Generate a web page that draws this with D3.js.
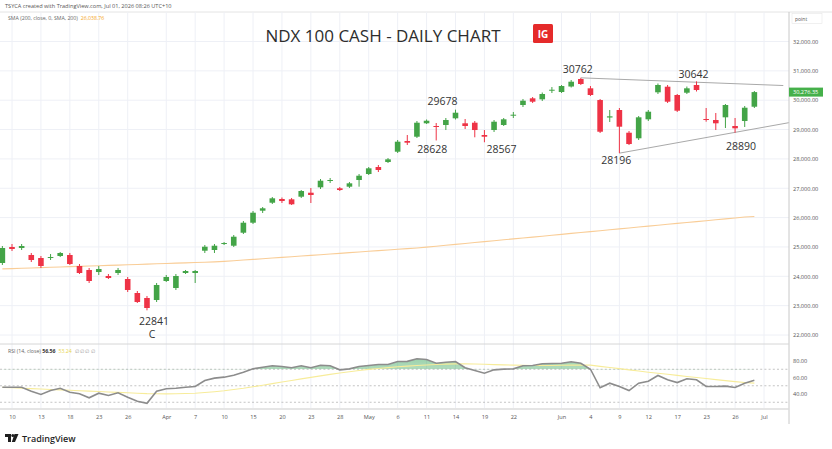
<!DOCTYPE html>
<html><head><meta charset="utf-8">
<script src="https://cdn.jsdelivr.net/npm/d3@7/dist/d3.min.js"></script>
<style>body{margin:0;background:#fff}svg{display:block}</style>
</head><body><svg id="c" width="832" height="449"></svg>
<script>
const dates = ["2026-03-09","2026-03-10","2026-03-11","2026-03-12","2026-03-13","2026-03-16","2026-03-17","2026-03-18","2026-03-19","2026-03-20","2026-03-23","2026-03-24","2026-03-25","2026-03-26","2026-03-27","2026-03-30","2026-03-31",
"2026-04-01","2026-04-02","2026-04-06","2026-04-07","2026-04-08","2026-04-09","2026-04-10","2026-04-13","2026-04-14","2026-04-15","2026-04-16","2026-04-17","2026-04-20","2026-04-21","2026-04-22","2026-04-23","2026-04-24","2026-04-27","2026-04-28","2026-04-29","2026-04-30",
"2026-05-01","2026-05-04","2026-05-05","2026-05-06","2026-05-07","2026-05-08","2026-05-11","2026-05-12","2026-05-13","2026-05-14","2026-05-15","2026-05-18","2026-05-19","2026-05-20","2026-05-21","2026-05-22","2026-05-26","2026-05-27","2026-05-28","2026-05-29",
"2026-06-01","2026-06-02","2026-06-03","2026-06-04","2026-06-05","2026-06-08","2026-06-09","2026-06-10","2026-06-11","2026-06-12","2026-06-15","2026-06-16","2026-06-17","2026-06-18","2026-06-22","2026-06-23","2026-06-24","2026-06-25","2026-06-26","2026-06-29","2026-06-30"];
const axisDates = dates.concat(["2026-07-01"]);

const opens = [24453,24998,24964,24726,24623,24640,24692,24726,24351,24215,24146,24010,24112,23908,23431,23261,23192,23840,23601,24112,24112,24872,24896,25100,25042,25485,25826,26235,26507,26634,26623,26712,26848,27032,27247,26998,27053,27281,27485,27724,27894,28245,28610,28756,29213,29121,29155,29383,29213,29233,28814,28984,29155,29485,29836,30064,30030,30337,30279,30466,30722,30405,30006,29410,29666,28892,28702,29349,30269,30460,30177,30255,30518,29359,29325,29417,29121,29291,29778];
const highs = [25032,25100,25100,24794,24692,24760,24828,24794,24419,24283,24351,24078,24283,23976,23499,23329,23772,24044,24078,24215,24215,25066,25100,25168,25407,25884,26225,26361,26702,26685,26668,26940,27008,27315,27349,27042,27213,27485,27724,27792,28030,28644,28814,29291,29342,29223,29393,29678,29359,29291,28984,29325,29393,29598,30041,30109,30262,30449,30517,30688,30762,30483,30041,29666,29734,28950,29461,29666,30569,30518,30211,30466,30642,29734,29564,29870,29393,29802,30313];
const lows = [24385,24862,24896,24487,24283,24555,24657,24385,24078,23772,24044,23908,24044,23465,23090,22841,23124,23806,23533,24078,23772,24794,24794,25066,24998,25441,25782,26157,26463,26497,26429,26668,26497,26974,27179,26906,27008,27053,27451,27553,27860,28201,28473,28712,29189,28628,28984,29342,29018,28736,28567,28916,29121,29393,29768,29904,29972,30245,30245,30432,30517,30143,28882,29257,28196,28473,28644,29291,30211,29904,29598,30211,30296,29267,28984,29052,28890,29087,29734];
const closes = [24964,24930,25032,24555,24351,24657,24794,24419,24112,23840,24249,23942,24215,23533,23124,22920,23704,23976,24010,24180,24180,25008,25042,25134,25349,25826,26167,26317,26657,26565,26453,26906,26770,27257,27281,26940,27168,27427,27679,27622,27986,28586,28552,29233,29301,29087,29325,29574,29121,28984,28756,29267,29349,29506,29983,29949,30211,30357,30483,30630,30552,30177,28926,29451,29097,28507,29417,29608,30518,29949,29642,30405,30347,29335,29213,29836,29042,29744,30276];
const sma200 = [24252,24263,24273,24284,24295,24306,24317,24328,24339,24350,24361,24372,24382,24393,24404,24415,24426,24437,24448,24459,24470,24480,24491,24507,24530,24553,24576,24598,24621,24644,24667,24690,24713,24736,24759,24782,24805,24828,24851,24874,24897,24920,24943,24966,24995,25026,25057,25088,25119,25150,25181,25212,25243,25274,25305,25336,25367,25398,25430,25461,25492,25523,25554,25585,25616,25647,25678,25709,25740,25771,25802,25833,25864,25895,25926,25957,25988,26019,26039];
const rsi = [48.2,48.2,48.2,43.4,39.4,44.2,47.0,42.2,40.2,35.4,41.0,38.2,41.5,36.1,31.3,28.8,43.4,46.3,47.0,48.2,49.1,56.4,59.2,60.4,62.8,66.4,70.5,72.5,74.2,73.3,71.8,74.2,71.8,74.9,74.2,69.3,70.5,73.3,74.5,75.8,75.8,79.4,79.6,82.7,81.8,77.3,78.5,79.4,71.8,68.5,65.2,69.3,70.1,70.5,74.2,74.5,76.6,77.0,77.3,79.0,77.3,70.0,47.5,53.1,49.1,44.2,53.1,55.5,62.4,57.2,53.9,58.4,57.2,49.1,49.1,49.5,47.9,53.1,56.6];
const rsiMa = [48,47.5,47,46.5,46,45.5,45,44.5,44,43.5,43,42.5,42,41.5,41,40.5,40.3,40.2,40.3,40.6,41,41.8,42.8,44,45.5,47,48.8,50.7,52.6,54.5,56.4,58.3,60.2,62,63.8,65.5,67,68.5,69.8,71,72,73,73.8,74.5,75.2,75.8,76.2,76.5,76.6,76.4,76,75.6,75.3,75,74.8,74.6,74.5,74.6,74.8,75,75.2,75,73.5,72.2,70.8,69.2,67.8,66.4,65.2,64,62.6,61.3,60,58.7,57.4,56.2,55,54,53.2];

const xTicks = [["2026-03-10","10"],["2026-03-13","13"],["2026-03-18","18"],["2026-03-23","23"],["2026-03-26","26"],["2026-04-01","Apr"],["2026-04-07","7"],["2026-04-10","10"],["2026-04-15","15"],["2026-04-20","20"],["2026-04-23","23"],["2026-04-28","28"],["2026-05-01","May"],["2026-05-06","6"],["2026-05-11","11"],["2026-05-14","14"],["2026-05-19","19"],["2026-05-22","22"],["2026-06-01","Jun"],["2026-06-04","4"],["2026-06-09","9"],["2026-06-12","12"],["2026-06-17","17"],["2026-06-23","23"],["2026-06-26","26"],["2026-07-01","Jul"]];
const priceTicks = [22000,23000,24000,25000,26000,27000,28000,29000,30000,31000,32000];
const rsiTicks = [40,60,80];
const rsiBands = [70,50,30];
// label text, anchor date, anchor price
const annotations = [["22841","2026-03-30",22841],["C","2026-03-30",22841],["29678","2026-05-14",29678],["28628","2026-05-12",28628],["28567","2026-05-19",28567],["30762","2026-06-03",30762],["30642","2026-06-22",30642],["28196","2026-06-09",28196],["28890","2026-06-26",28890]];
const trendUpper = [["2026-06-03",30762],[80,30500]];
const trendLower = [["2026-06-09",28196],[80.6,29235]];

const svg = d3.select("#c");
const W = 832, H = 449, axisX = 789;
const x = d3.scalePoint().domain(axisDates).range([2.36, 764]);
const step = x.step();
const xi = v => typeof v === "number" ? x(dates[0]) + v * step + step : x(v);
const y = d3.scaleLinear().domain([22000, 32000]).range([335, 41.5]);
const yr = d3.scaleLinear().domain([40, 80]).range([394, 361]);
const font = "'Open Sans', 'Noto Sans', sans-serif";

svg.append("rect").attr("width", W).attr("height", H).attr("fill", "#fff");

// header
svg.append("text").attr("x", 5).attr("y", 7.5).attr("font-size", 5.6).attr("fill", "#555").attr("font-family", font)
  .text("TSYCA created with TradingView.com, Jul 01, 2026 08:26 UTC+10");
svg.append("line").attr("x1", 0).attr("x2", W).attr("y1", 12).attr("y2", 12).attr("stroke", "#e4e4e4");

// grid
const g = svg.append("g");
g.selectAll(".vg").data(xTicks).join("line")
  .attr("x1", d => x(d[0])).attr("x2", d => x(d[0])).attr("y1", 12).attr("y2", 408)
  .attr("stroke", "#eef0f6").attr("stroke-width", 1);
g.selectAll(".hg").data(priceTicks).join("line")
  .attr("x1", 0).attr("x2", axisX).attr("y1", d => y(d)).attr("y2", d => y(d))
  .attr("stroke", "#eef0f6");

svg.append("text").attr("x", 8).attr("y", 19.5).attr("font-size", 5.2).attr("fill", "#666").attr("font-family", font)
  .text("SMA (200, close, 0, SMA, 200)").append("tspan").attr("fill", "#f5a623").attr("dx", 3).text("26,038.76");

// title
svg.append("text").attr("x", 383).attr("y", 42).attr("text-anchor", "middle").attr("font-size", 17)
  .attr("font-family", font).attr("fill", "#2d2d2d").text("NDX 100 CASH - DAILY CHART");
svg.append("rect").attr("x", 533).attr("y", 24).attr("width", 20).attr("height", 19).attr("rx", 1.5).attr("fill", "#e52a2a");
svg.append("text").attr("x", 543).attr("y", 38).attr("text-anchor", "middle").attr("font-size", 10).attr("font-weight", "bold")
  .attr("font-family", font).attr("fill", "#fff").text("IG");

// SMA line
svg.append("path").datum(sma200).attr("fill", "none").attr("stroke", "#f9cd97").attr("stroke-width", 1.1)
  .attr("d", d3.line().x((d, i) => x(dates[i])).y(d => y(d)));

// trend lines
const tl = d3.line().x(d => xi(d[0])).y(d => y(d[1]));
svg.append("path").datum(trendUpper).attr("d", tl).attr("stroke", "#a9a9a9").attr("stroke-width", 1).attr("fill", "none");
svg.append("path").datum(trendLower).attr("d", tl).attr("stroke", "#a9a9a9").attr("stroke-width", 1).attr("fill", "none");

// candles
const up = "#43a447", dn = "#ee3346";
const cw = 5.6;
const cg = svg.append("g");
const idx = d3.range(dates.length);
cg.selectAll(".w").data(idx).join("line")
  .attr("x1", i => x(dates[i])).attr("x2", i => x(dates[i]))
  .attr("y1", i => y(highs[i])).attr("y2", i => y(lows[i]))
  .attr("stroke", i => closes[i] >= opens[i] ? up : dn).attr("stroke-width", 1);
cg.selectAll(".b").data(idx).join("rect")
  .attr("x", i => x(dates[i]) - cw / 2).attr("width", cw)
  .attr("y", i => y(Math.max(opens[i], closes[i])))
  .attr("height", i => Math.max(1, Math.abs(y(opens[i]) - y(closes[i]))))
  .attr("fill", i => closes[i] >= opens[i] ? up : dn);

// annotations (label offsets relative to the anchor point)
const annOffset = {"22841":[7,14.5], "C":[5,27.5], "29678":[-13,-5], "28628":[-4,12.5], "28567":[17,11], "30762":[-3,-5], "30642":[-3,-3.5], "28196":[-3,11], "28890":[6,17]};
const ag = svg.append("g").attr("font-family", font).attr("font-size", 10.5).attr("fill", "#333").attr("text-anchor", "middle");
annotations.forEach(([t, d, p]) => {
  const o = annOffset[t];
  ag.append("text").attr("x", x(d) + o[0]).attr("y", y(p) + o[1]).text(t);
});

// price axis
svg.append("line").attr("x1", axisX).attr("x2", axisX).attr("y1", 12).attr("y2", 424).attr("stroke", "#c8c8c8");
const pa = svg.append("g").attr("transform", `translate(${axisX},0)`)
  .call(d3.axisRight(y).tickValues(priceTicks).tickSize(0).tickPadding(4).tickFormat(d3.format(",.2f")));
pa.select(".domain").remove();
pa.selectAll("text").attr("font-size", 5.6).attr("fill", "#555").attr("font-family", font);
svg.append("rect").attr("x", 792).attr("y", 13.5).attr("width", 30).attr("height", 10).attr("fill", "#fff").attr("stroke", "#e6e6e6").attr("stroke-width", 0.6);
svg.append("text").attr("x", 795).attr("y", 20.5).attr("font-size", 5).attr("fill", "#555").attr("font-family", font).text("point");
// last price tag
const last = closes[closes.length - 1];
svg.append("rect").attr("x", axisX).attr("y", y(last) - 4.5).attr("width", 34).attr("height", 9).attr("fill", "#45b04a");
svg.append("text").attr("x", axisX + 4).attr("y", y(last) + 2).attr("font-size", 5.6).attr("fill", "#fff").attr("font-family", font)
  .text(d3.format(",.2f")(30276.35));

// RSI panel
svg.append("line").attr("x1", 0).attr("x2", axisX).attr("y1", 344).attr("y2", 344).attr("stroke", "#d6d6d6");
svg.selectAll(".band").data(rsiBands).join("line")
  .attr("x1", 0).attr("x2", axisX).attr("y1", d => yr(d)).attr("y2", d => yr(d))
  .attr("stroke", "#b5b5b5").attr("stroke-width", 0.8).attr("stroke-dasharray", "2,2.2");

const defs = svg.append("defs");
const grad = defs.append("linearGradient").attr("id", "ob").attr("x1", 0).attr("x2", 0).attr("y1", 0).attr("y2", 1);
grad.append("stop").attr("offset", "0%").attr("stop-color", "#3aa65a").attr("stop-opacity", 0.5);
grad.append("stop").attr("offset", "100%").attr("stop-color", "#3aa65a").attr("stop-opacity", 0.05);
defs.append("clipPath").attr("id", "obclip").append("rect").attr("x", 0).attr("width", axisX).attr("y", 340).attr("height", yr(70) - 340);
svg.append("path").datum(rsi).attr("clip-path", "url(#obclip)").attr("fill", "url(#ob)")
  .attr("d", d3.area().x((d, i) => x(dates[i])).y0(yr(70)).y1(d => yr(d)));

svg.append("path").datum(rsiMa).attr("fill", "none").attr("stroke", "#f7ec9a").attr("stroke-width", 1.1)
  .attr("d", d3.line().x((d, i) => x(dates[i])).y(d => yr(d)));
svg.append("path").datum(rsi).attr("fill", "none").attr("stroke", "#8c8c8c").attr("stroke-width", 1.6)
  .attr("d", d3.line().x((d, i) => x(dates[i])).y(d => yr(d)));

const ra = svg.append("g").attr("transform", `translate(${axisX},0)`)
  .call(d3.axisRight(yr).tickValues(rsiTicks).tickSize(0).tickPadding(4).tickFormat(d3.format(".2f")));
ra.select(".domain").remove();
ra.selectAll("text").attr("font-size", 5.6).attr("fill", "#555").attr("font-family", font);

const rl = svg.append("text").attr("x", 8).attr("y", 353).attr("font-size", 5.2).attr("fill", "#666").attr("font-family", font);
rl.text("RSI (14, close) ");
rl.append("tspan").attr("font-weight", "bold").attr("fill", "#333").text("56.56");
rl.append("tspan").attr("dx", 3).attr("fill", "#e8d44d").text("53.24");
rl.append("tspan").attr("dx", 3).attr("fill", "#999").text("∅ ∅ ∅ ∅");

// x axis
svg.append("line").attr("x1", 0).attr("x2", axisX).attr("y1", 409).attr("y2", 409).attr("stroke", "#dcdcdc").attr("stroke-width", 1.6);
const xa = svg.append("g").attr("transform", "translate(0,410)")
  .call(d3.axisBottom(x).tickValues(xTicks.map(d => d[0])).tickSize(0).tickPadding(5)
    .tickFormat(d => (xTicks.find(t => t[0] === d) || ["", ""])[1]));
xa.select(".domain").remove();
xa.selectAll("text").attr("font-size", 5.6).attr("fill", "#555").attr("font-family", font);

// TradingView logo
const lg = svg.append("g").attr("fill", "#1f1f1f");
lg.append("path").attr("d", "M5 434 h6 v8 h-3 v-5 h-3z");
lg.append("circle").attr("cx", 12.8).attr("cy", 435.5).attr("r", 1.5);
lg.append("path").attr("d", "M14.5 434 h4 l-3.5 8 h-3.2z");
svg.append("text").attr("x", 22).attr("y", 441.5).attr("font-size", 9).attr("font-weight", 600).attr("fill", "#1f1f1f")
  .attr("font-family", font).text("TradingView");
</script></body></html>
